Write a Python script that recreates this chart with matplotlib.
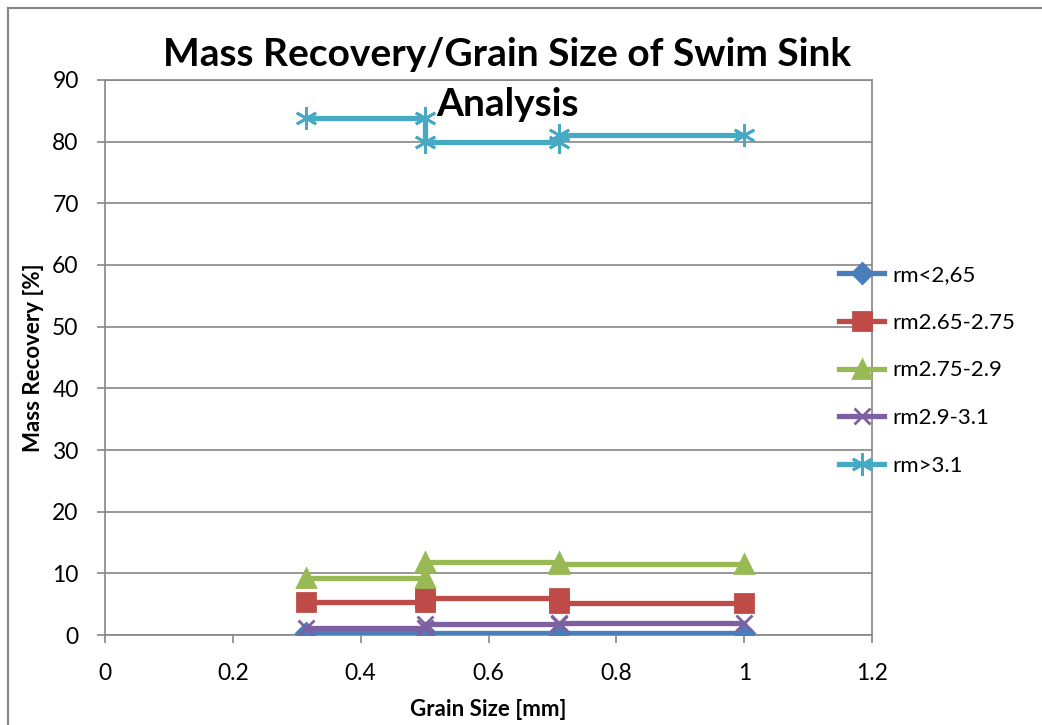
import matplotlib
matplotlib.use("Agg")
import matplotlib.pyplot as plt
from matplotlib.lines import Line2D

plt.rcParams['font.family'] = ['Lato', 'DejaVu Sans']

# grain size class boundaries [mm]; each class is drawn as a flat step
grain_x = [0.315, 0.5, 0.5, 0.71, 0.71, 1.0]

# mass recovery per density fraction, one value per grain size class
labels = ['rm<2,65', 'rm2.65-2.75', 'rm2.75-2.9', 'rm2.9-3.1', 'rm>3.1']
rec_lt265 = [0.3, 0.4, 0.4]
rec_265_275 = [5.4, 6.0, 5.2]
rec_275_29 = [9.2, 11.9, 11.5]
rec_29_31 = [1.2, 1.8, 2.0]
rec_gt31 = [83.9, 80.0, 81.0]
series = [rec_lt265, rec_265_275, rec_275_29, rec_29_31, rec_gt31]

colors = ['#4a7ebb', '#be4b48', '#98b954', '#7d60a0', '#46aac5']
markers = ['D', 's', '^', 'x', (6, 2, 0)]
msizes = [10, 13, 13, 12, 16]


def steps(vals):
    # each class value spans both of its boundaries
    return [vals[0], vals[0], vals[1], vals[1], vals[2], vals[2]]


fig = plt.figure(figsize=(10.42, 7.25), dpi=100)
ax = fig.add_axes([0.1008, 0.1241, 0.7362, 0.7656])

for vals, c, m, ms, lab in zip(series, colors, markers, msizes, labels):
    ax.plot(grain_x, steps(vals), color=c, lw=3.8, marker=m, ms=ms,
            mew=2.0, mec=c, mfc=c, label=lab, zorder=3)

ax.set_xlim(0, 1.2)
ax.set_ylim(0, 90)
ax.set_xticks([0, 0.2, 0.4, 0.6, 0.8, 1.0, 1.2])
ax.set_xticklabels(['0', '0.2', '0.4', '0.6', '0.8', '1', '1.2'])
ax.set_yticks(range(0, 91, 10))
ax.yaxis.grid(True, color='#868686', lw=1.2)
ax.set_axisbelow(True)
for s in ax.spines.values():
    s.set_color('#868686')
    s.set_linewidth(1.2)
ax.tick_params(colors='#868686', labelcolor='black', labelsize=16.5,
               length=6, width=1.2)
ax.tick_params(axis='x', pad=14)
ax.tick_params(axis='y', pad=13)

ax.set_xlabel('Grain Size [mm]', fontsize=16, fontweight='bold', labelpad=11)
ax.set_ylabel('Mass Recovery [%]', fontsize=16, fontweight='bold', labelpad=6)

fig.text(0.487, 0.925, 'Mass Recovery/Grain Size of Swim Sink',
         ha='center', va='center', fontsize=28, fontweight='bold')
fig.text(0.487, 0.856, 'Analysis',
         ha='center', va='center', fontsize=28, fontweight='bold')

handles = [Line2D([], [], color=c, lw=3.8, marker=m, ms=ms, mew=2.0,
                  mec=c, mfc=c) for c, m, ms in zip(colors, markers, msizes)]
fig.legend(handles, labels, loc='upper left', bbox_to_anchor=(0.797, 0.647),
           frameon=False, fontsize=16, handlelength=2.0, handletextpad=0.4,
           labelspacing=1.25, borderaxespad=0)

# chart area border
fig.add_artist(Line2D([0.008, 0.008], [0, 0.989], color='#868686', lw=1.5))
fig.add_artist(Line2D([0.008, 1.0], [0.989, 0.989], color='#868686', lw=1.5))

fig.savefig('out.png', dpi=100)
